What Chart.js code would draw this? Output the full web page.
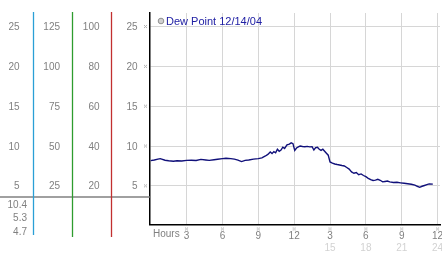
<!DOCTYPE html>
<html lang="en">
<head>
    <meta charset="UTF-8">
    <script src="https://cdn.jsdelivr.net/npm/chart.js"></script>
    <title>Dew Point 12/14/04</title>
    <style>
        body { margin: 0; background: #fff; }
        #box { width: 442px; height: 253px; }
    </style>
</head>
<body>
    <div id="box">
        <canvas id="grafico" width="442" height="253"></canvas>
    </div>

<script>
    // data
    var hours = [0, 0.3, 0.6, 0.8, 1.2, 1.5, 1.9, 2.2, 2.6, 3.0, 3.4, 3.8, 4.2, 4.6, 4.9, 5.3, 5.6, 6.0, 6.3, 6.7,
        7.0, 7.3, 7.6, 7.9, 8.2, 8.6, 9.0, 9.3, 9.6, 9.8, 10.0, 10.15, 10.3, 10.45, 10.6, 10.75, 10.9, 11.05, 11.2,
        11.4, 11.6, 11.75, 11.9, 12.05, 12.2, 12.35, 12.5, 12.7, 12.9, 13.1, 13.3, 13.5, 13.65, 13.8, 13.95, 14.1,
        14.25, 14.4, 14.55, 14.7, 14.85, 15.0, 15.2, 15.4, 15.6, 15.8, 16.0, 16.2, 16.4, 16.6, 16.8, 17.0, 17.2,
        17.4, 17.6, 17.8, 18.0, 18.2, 18.4, 18.6, 18.8, 19.0, 19.2, 19.4, 19.6, 19.8, 20.0, 20.3, 20.6, 20.9, 21.2,
        21.5, 21.8, 22.1, 22.3, 22.5, 22.7, 22.9, 23.1, 23.3, 23.6]
    var dewPoint = [8.17, 8.25, 8.35, 8.42, 8.22, 8.15, 8.09, 8.15, 8.12, 8.2, 8.22, 8.18, 8.32, 8.25, 8.2, 8.28, 8.34, 8.42, 8.47, 8.42,
        8.35, 8.24, 8.05, 8.2, 8.25, 8.35, 8.42, 8.52, 8.75, 8.95, 9.25, 9.05, 9.3, 9.15, 9.6, 9.35, 9.5, 9.85, 9.7,
        10.15, 10.25, 10.4, 10.3, 9.45, 9.75, 9.9, 10.0, 9.95, 9.92, 9.96, 9.9, 9.92, 9.5, 9.8, 9.85,
        9.6, 9.45, 9.6, 9.35, 9.1, 8.85, 8.0, 7.85, 7.75, 7.68, 7.62, 7.55, 7.5, 7.3, 7.1, 6.75, 6.58, 6.68,
        6.4, 6.5, 6.3, 6.15, 5.95, 5.78, 5.68, 5.72, 5.82, 5.7, 5.5, 5.55, 5.6, 5.5, 5.42, 5.45, 5.38, 5.32,
        5.26, 5.2, 5.1, 4.95, 4.82, 4.95, 5.05, 5.15, 5.25, 5.22]

    var yTicks = [5, 10, 15, 20, 25]
    var xTicks = [3, 6, 9, 12, 15, 18, 21, 24]
    var xLabels = ['3', '6', '9', '12', '3', '6', '9', '12']
    var xLabels24 = ['', '', '', '', '15', '18', '21', '24']
    var sideFactors = [1, 5, 4]          // extra scale columns on the left
    var stats = ['10.4', '5.3', '4.7']
    var legendText = 'Dew Point 12/14/04'

    function marca(ctx, x, y) {
        ctx.fillStyle = '#b0b0b0'
        ctx.fillRect(x - 1.5, y - 1.5, 1, 1)
        ctx.fillRect(x + 0.5, y - 1.5, 1, 1)
        ctx.fillRect(x - 0.5, y - 0.5, 1, 1)
        ctx.fillRect(x - 1.5, y + 0.5, 1, 1)
        ctx.fillRect(x + 0.5, y + 0.5, 1, 1)
    }

    var extras = {
        id: 'extras',
        afterDraw: function (chart) {
            var ctx = chart.ctx
            var xs = chart.scales.x
            var ys = chart.scales.y
            var area = chart.chartArea
            ctx.save()

            // left panel: separator and coloured rules
            ctx.fillStyle = '#a0a0a0'
            ctx.fillRect(0, 196, area.left, 2)
            ctx.lineWidth = 1.3
            ctx.strokeStyle = '#2a9fd6'
            ctx.beginPath(); ctx.moveTo(33.5, 12); ctx.lineTo(33.5, 235); ctx.stroke()
            ctx.strokeStyle = '#2e9c2e'
            ctx.beginPath(); ctx.moveTo(72.5, 12); ctx.lineTo(72.5, 237); ctx.stroke()
            ctx.strokeStyle = '#c23030'
            ctx.beginPath(); ctx.moveTo(111.5, 12); ctx.lineTo(111.5, 237); ctx.stroke()

            ctx.font = '10px "Liberation Sans", Arial, sans-serif'
            ctx.fillStyle = '#808080'
            ctx.textAlign = 'right'
            var colRight = [19.5, 60, 99.5]
            yTicks.forEach(function (v) {
                var py = ys.getPixelForValue(v)
                ctx.fillStyle = '#808080'
                sideFactors.forEach(function (f, i) {
                    ctx.fillText(String(v * f), colRight[i], py + 3.5)
                })
                ctx.fillText(String(v), 137.5, py + 3.5)
                marca(ctx, 145.5, py)
            })
            ctx.fillStyle = '#808080'
            stats.forEach(function (s, i) {
                ctx.fillText(s, 27, 207.5 + i * 13.7)
            })

            // x axis labels
            ctx.textAlign = 'left'
            ctx.fillText('Hours', 153, 237)
            ctx.textAlign = 'center'
            xTicks.forEach(function (v, i) {
                var px = xs.getPixelForValue(v)
                marca(ctx, px, 229)
                ctx.fillStyle = '#808080'
                ctx.fillText(xLabels[i], px, 238.5)
                if (xLabels24[i]) {
                    ctx.fillStyle = '#d2d2d2'
                    ctx.fillText(xLabels24[i], px, 250.5)
                }
            })

            // legend
            ctx.beginPath()
            ctx.arc(161, 21, 2.8, 0, Math.PI * 2)
            ctx.fillStyle = '#d0d0d0'
            ctx.fill()
            ctx.strokeStyle = '#909090'
            ctx.lineWidth = 1
            ctx.stroke()
            ctx.font = '11px "Liberation Sans", Arial, sans-serif'
            ctx.fillStyle = '#2020a4'
            ctx.textAlign = 'left'
            ctx.fillText(legendText, 166, 24.5)
            ctx.restore()
        }
    }

    var grafico = new Chart(document.getElementById('grafico').getContext('2d'), {
        type: 'line',
        data: {
            datasets: [{
                label: legendText,
                data: hours.map(function (h, i) { return { x: h, y: dewPoint[i] } }),
                borderColor: '#10107a',
                borderWidth: 1.4,
                pointRadius: 0,
                tension: 0,
                fill: false
            }]
        },
        options: {
            responsive: false,
            animation: false,
            layout: { padding: { top: 13, right: 2, left: 0, bottom: 0 } },
            plugins: {
                legend: { display: false },
                tooltip: { enabled: false }
            },
            scales: {
                x: {
                    type: 'linear',
                    min: -0.1,
                    max: 24.2,
                    afterFit: function (s) { s.height = 28.5 },
                    afterBuildTicks: function (s) { s.ticks = xTicks.map(function (v) { return { value: v } }) },
                    ticks: { display: false },
                    grid: { color: '#d6d6d6', drawTicks: false },
                    border: { color: '#000', width: 1.5 }
                },
                y: {
                    min: 0.15,
                    max: 26.7,
                    afterFit: function (s) { s.width = 149.5 },
                    afterBuildTicks: function (s) { s.ticks = yTicks.map(function (v) { return { value: v } }) },
                    ticks: { display: false },
                    grid: { color: '#d6d6d6', drawTicks: false },
                    border: { color: '#000', width: 1.5 }
                }
            }
        },
        plugins: [extras]
    });
</script>
</body>
</html>
